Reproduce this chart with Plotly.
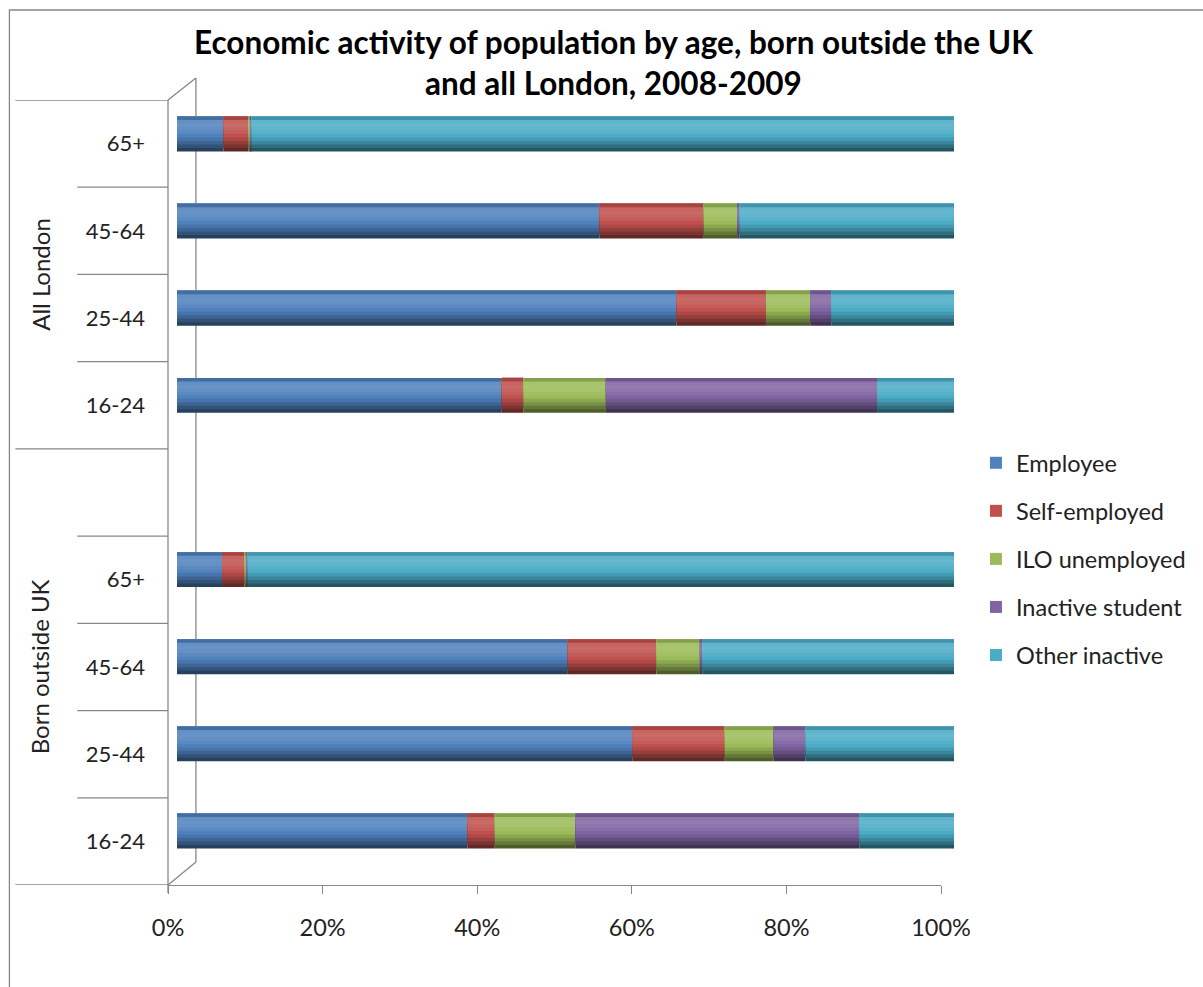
import plotly.graph_objects as go
import numpy as np

# ---------------- data (percent of population) ----------------
series_names = ["Employee", "Self-employed", "ILO unemployed", "Inactive student", "Other inactive"]
series_colors = ["#4F81BD", "#C0504D", "#9BBB59", "#8064A2", "#4BACC6"]

group_names = ["Born outside UK", "All London"]          # bottom group first
age_bands = ["16-24", "25-44", "45-64", "65+"]           # bottom to top inside a group

employee_born_outside = [37.4, 58.6, 50.3, 5.8]
self_employed_born_outside = [3.5, 11.9, 11.4, 2.9]
ilo_unemployed_born_outside = [10.4, 6.3, 5.6, 0.3]
inactive_student_born_outside = [36.5, 4.1, 0.3, 0.1]
other_inactive_born_outside = [12.2, 19.1, 32.4, 90.9]

employee_all_london = [41.8, 64.3, 54.4, 6.0]
self_employed_all_london = [2.8, 11.5, 13.4, 3.2]
ilo_unemployed_all_london = [10.6, 5.7, 4.3, 0.3]
inactive_student_all_london = [34.9, 2.7, 0.3, 0.1]
other_inactive_all_london = [9.9, 15.8, 27.6, 90.4]

x_tick_values = [0, 20, 40, 60, 80, 100]
x_tick_labels = ["0%", "20%", "40%", "60%", "80%", "100%"]

title_text = "Economic activity of population by age, born outside the UK<br>and all London, 2008-2009"

# ---------------- category slots (bottom -> top) ----------------
slot_ids = [f"BOU {a}" for a in age_bands] + ["BOU blank"] + [f"AL {a}" for a in age_bands]
slot_labels = age_bands + [""] + age_bands
bou_ids = [f"BOU {a}" for a in age_bands]
al_ids = [f"AL {a}" for a in age_bands]

series_bou = [employee_born_outside, self_employed_born_outside, ilo_unemployed_born_outside,
              inactive_student_born_outside, other_inactive_born_outside]
series_al = [employee_all_london, self_employed_all_london, ilo_unemployed_all_london,
             inactive_student_all_london, other_inactive_all_london]

ids = bou_ids + al_ids
values = np.array([b + a for b, a in zip(series_bou, series_al)])   # shape (5, 8)
bases = np.vstack([np.zeros(values.shape[1]), np.cumsum(values, axis=0)[:-1]])

# ---------------- layout geometry (pixels) ----------------
FIG_W, FIG_H = 1203, 987
PL, PR, PT, PB = 168, 958, 90, 885   # paper area in pixels
PW, PH = PR - PL, PB - PT


def px(x):
    return (x - PL) / PW


def py(y):
    return (PB - y) / PH


def shade(hex_color, f):
    h = hex_color.lstrip("#")
    r, g, b = (int(h[i:i + 2], 16) for i in (0, 2, 4))
    if f <= 1:
        r, g, b = (int(c * f) for c in (r, g, b))
    else:
        t = f - 1
        r, g, b = (int(c + (255 - c) * t) for c in (r, g, b))
    return f"rgb({r},{g},{b})"


fig = go.Figure()

# cylinder-like shading: nested bands, each running from its bottom edge to the top of the bar
BAR_W = 0.40
band_factors = [0.50, 0.64, 0.78, 0.90, 1.0, 1.07, 1.12, 1.15, 1.12, 0.86]
band_w = BAR_W / len(band_factors)
legend_band = 4
for i, (name, col) in enumerate(zip(series_names, series_colors)):
    for j, f in enumerate(band_factors):
        show = (j == legend_band)
        fig.add_trace(go.Bar(
            y=ids, x=values[i], base=bases[i], orientation="h",
            width=BAR_W - j * band_w, offset=-BAR_W / 2 + j * band_w,
            marker=dict(color=col if show else shade(col, f), line=dict(width=0)),
            name=name, legendgroup=name, showlegend=show,
            hoverinfo="skip" if not show else None,
            xaxis="x", yaxis="y",
        ))

axis_gray = "#878787"
font_family = "Lato, 'Open Sans', sans-serif"
txt_col = "#222222"

fig.update_layout(
    width=FIG_W, height=FIG_H,
    margin=dict(l=PL, r=FIG_W - PR, t=PT, b=FIG_H - PB, pad=0),
    paper_bgcolor="white", plot_bgcolor="rgba(0,0,0,0)",
    barmode="overlay",
    font=dict(family=font_family, size=22, color=txt_col),
    xaxis=dict(domain=[px(177), px(956)], range=[0, 100], visible=False, fixedrange=True),
    yaxis=dict(domain=[py(874.6), py(90.4)], type="category", categoryorder="array",
               categoryarray=slot_ids, range=[-0.5, len(slot_ids) - 0.5], visible=False),
    xaxis2=dict(domain=[0, px(943)], range=[0, 100], anchor="y2",
                tickvals=x_tick_values, ticktext=x_tick_labels,
                ticks="outside", ticklen=8, tickcolor=axis_gray, tickwidth=1.3,
                showline=True, linecolor=axis_gray, linewidth=1.3,
                showgrid=False, zeroline=False, ticklabelstandoff=14,
                tickfont=dict(size=23.5, family=font_family, color=txt_col)),
    yaxis2=dict(domain=[0, py(100)], range=[-0.5, len(slot_ids) - 0.5], anchor="x2",
                tickvals=list(range(len(slot_ids))), ticktext=slot_labels,
                ticks="", showline=False, showgrid=False, zeroline=False,
                ticklabelstandoff=22,
                tickfont=dict(size=22, family=font_family, color=txt_col)),
    legend=dict(x=px(978), y=py(441), xanchor="left", yanchor="top",
                traceorder="grouped", tracegroupgap=14.5, itemwidth=30,
                font=dict(size=23.5, family=font_family, color=txt_col),
                bgcolor="rgba(0,0,0,0)"),
    showlegend=True,
)

# dummy trace so the x2/y2 subplot is drawn
fig.add_trace(go.Scatter(x=[None], y=[None], xaxis="x2", yaxis="y2", showlegend=False, hoverinfo="skip"))

line = dict(color=axis_gray, width=1.3)
shapes = []
shapes.append(dict(type="rect", xref="paper", yref="paper", x0=px(9), x1=px(1230), y0=py(1000), y1=py(10),
                   line=dict(color=axis_gray, width=1.3), fillcolor="rgba(0,0,0,0)", layer="below"))
for (x0, y0, x1, y1) in [(168, 100, 196, 78), (196, 78, 196, 862), (196, 862, 168, 885), (168, 100, 168, 893)]:
    shapes.append(dict(type="line", xref="paper", yref="paper", x0=px(x0), y0=py(y0), x1=px(x1), y1=py(y1),
                       line=line, layer="below"))
n = len(slot_ids)
for k in range(n + 1):
    yv = k - 0.5
    long_line = k in (0, len(bou_ids) + 1, n)
    shapes.append(dict(type="line", xref="paper", yref="y2", x0=px(15 if long_line else 77), x1=px(168),
                       y0=yv, y1=yv, line=line, layer="below"))
fig.update_layout(shapes=shapes)

bou_center = (0 + len(bou_ids)) / 2
al_center = (len(bou_ids) + 1 + n - 1) / 2
for txt, yc in [(group_names[0], bou_center), (group_names[1], al_center)]:
    fig.add_annotation(text=txt, xref="paper", yref="y2", x=px(40), y=yc, textangle=-90,
                       showarrow=False, font=dict(size=24, family=font_family, color=txt_col),
                       xanchor="center", yanchor="middle")

fig.add_annotation(text=f"<b>{title_text}</b>", xref="paper", yref="paper", x=px(615), y=py(62),
                   showarrow=False, xanchor="center", yanchor="middle",
                   font=dict(size=31.5, family=font_family, color="#000000"))

fig.write_html("out.html", config={"displayModeBar": False},
               post_script="document.body.style.margin='0px';")
